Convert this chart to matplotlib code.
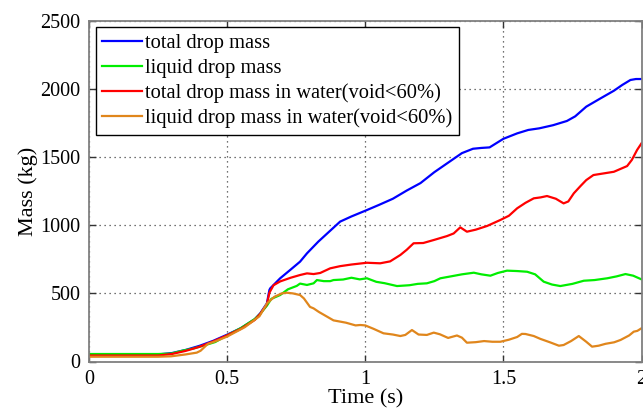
import matplotlib
matplotlib.use('Agg')
import matplotlib.pyplot as plt

# Time samples (s) and drop masses (kg).
t_total = [0.0, 0.25, 0.30, 0.35, 0.40, 0.45, 0.50, 0.55, 0.60, 0.62, 0.644, 0.653, 0.656,
           0.692, 0.73, 0.764, 0.789, 0.83, 0.873, 0.909, 0.95, 1.006, 1.05, 1.10, 1.15,
           1.20, 1.25, 1.30, 1.35, 1.39, 1.42, 1.45, 1.5, 1.55, 1.59,
           1.63, 1.68, 1.73, 1.76, 1.80, 1.85, 1.90, 1.93, 1.96, 1.98, 2.0]
m_total = [52, 52, 62, 85, 115, 152, 197, 245, 310, 354, 427, 525, 537,
           611, 675, 733, 794, 880, 960, 1027, 1065, 1112, 1150, 1195, 1255,
           1310, 1390, 1460, 1530, 1562, 1568, 1572, 1635, 1675, 1700,
           1712, 1735, 1766, 1800, 1871, 1930, 1988, 2030, 2067, 2074, 2074]

t_liquid = [0.0, 0.25, 0.297, 0.34, 0.377, 0.42, 0.457, 0.5, 0.55, 0.60, 0.62, 0.644, 0.66,
            0.692, 0.72, 0.752, 0.764, 0.789, 0.813, 0.825, 0.85, 0.873, 0.885, 0.92, 0.95,
            0.98, 1.006, 1.04, 1.07, 1.115, 1.16, 1.19, 1.223, 1.25, 1.272, 1.31, 1.35, 1.393,
            1.42, 1.453, 1.48, 1.513, 1.55, 1.586, 1.615, 1.646, 1.676, 1.706, 1.75, 1.791,
            1.83, 1.876, 1.91, 1.942, 1.97, 2.0]
m_liquid = [55, 55, 58, 80, 95, 120, 143, 192, 246, 312, 350, 410, 460,
            488, 530, 555, 572, 562, 574, 598, 590, 590, 598, 602, 615,
            603, 611, 585, 575, 554, 560, 570, 574, 590, 611, 625, 640, 652,
            640, 630, 650, 667, 664, 659, 640, 586, 565, 554, 570, 593,
            598, 611, 625, 642, 630, 603]

t_water = [0.0, 0.25, 0.30, 0.35, 0.40, 0.45, 0.50, 0.55, 0.60, 0.62, 0.644, 0.653, 0.668,
           0.692, 0.73, 0.764, 0.789, 0.813, 0.837, 0.873, 0.909, 0.95, 1.006, 1.054,
           1.09, 1.127, 1.15, 1.175, 1.21, 1.248, 1.296, 1.32, 1.344, 1.368, 1.40, 1.441,
           1.489, 1.52, 1.55, 1.58, 1.61, 1.635, 1.658, 1.69, 1.718, 1.735, 1.755, 1.78,
           1.80, 1.826, 1.86, 1.90, 1.948, 1.965, 1.984, 2.0]
m_water = [44, 44, 55, 78, 108, 148, 192, 240, 305, 350, 420, 505, 560,
           588, 615, 635, 647, 642, 650, 684, 700, 712, 725, 721,
           735, 782, 820, 868, 870, 892, 921, 940, 985, 953, 968, 995,
           1039, 1070, 1125, 1165, 1198, 1205, 1215, 1195, 1161, 1175, 1235, 1290,
           1332, 1369, 1380, 1393, 1435, 1480, 1553, 1602]

t_liq_water = [0.0, 0.25, 0.297, 0.35, 0.39, 0.404, 0.43, 0.46, 0.50, 0.564, 0.617, 0.644,
               0.671, 0.698, 0.716, 0.738, 0.764, 0.778, 0.80, 0.813, 0.832, 0.885, 0.93,
               0.965, 0.982, 1.0, 1.03, 1.066, 1.1, 1.127, 1.145, 1.169, 1.193, 1.223, 1.248,
               1.27, 1.3, 1.332, 1.35, 1.368, 1.40, 1.43, 1.46, 1.489, 1.52, 1.55, 1.567, 1.58,
               1.61, 1.634, 1.67, 1.701, 1.718, 1.745, 1.773, 1.80, 1.821, 1.845, 1.87, 1.901,
               1.924, 1.955, 1.972, 1.985, 2.0]
m_liq_water = [35, 35, 38, 52, 65, 79, 129, 150, 183, 252, 332, 426,
               475, 500, 505, 500, 488, 463, 401, 390, 364, 302, 285,
               265, 268, 265, 240, 207, 198, 187, 195, 231, 198, 195, 212,
               200, 173, 191, 175, 138, 142, 150, 145, 145, 160, 180, 203, 202,
               187, 166, 140, 116, 121, 150, 187, 145, 109, 116, 130, 141,
               158, 191, 219, 225, 244]

series = [
    (t_total, m_total, 'total drop mass', '#0000ff'),
    (t_liquid, m_liquid, 'liquid drop mass', '#00ee00'),
    (t_water, m_water, 'total drop mass in water(void<60%)', '#ff0000'),
    (t_liq_water, m_liq_water, 'liquid drop mass in water(void<60%)', '#e0861c'),
]

plt.rcParams['font.family'] = ['Liberation Serif', 'DejaVu Serif']
plt.rcParams['font.size'] = 14

fig = plt.figure(figsize=(6.43, 4.09), dpi=100)
ax = fig.add_axes([89 / 643, (409 - 361.5) / 409, 552.5 / 643, 340.5 / 409])

for t, m, label, color in series:
    ax.plot(t, m, color=color, linewidth=1.6, label=label)

ax.set_xlim(0, 2)
ax.set_ylim(0, 2500)
ax.set_xticks([0, 0.5, 1, 1.5, 2])
ax.set_xticklabels(['0', '0.5', '1', '1.5', '2'])
ax.set_yticks([0, 500, 1000, 1500, 2000, 2500])

ax.grid(True, color='#444444', linestyle=(0, (1, 3)), linewidth=0.9)
for sp in ax.spines.values():
    sp.set_color('#808080')
    sp.set_linewidth(1.3)
ax.tick_params(direction='in', length=5, width=1, color='#333333', top=True, right=True,
               labelsize=14.5, pad=6)

ax.set_xlabel('Time (s)', fontsize=16, labelpad=0)
ax.set_ylabel('Mass (kg)', fontsize=16, labelpad=2)

leg = ax.legend(loc='upper left', bbox_to_anchor=(7 / 552.5, 334.2 / 340.5), borderaxespad=0,
                fancybox=False, edgecolor='black', framealpha=1, fontsize=14.8,
                handlelength=1.95, handletextpad=0.15, labelspacing=0.27, borderpad=0.3)
leg.get_frame().set_linewidth(1.0)

fig.savefig('out.png', dpi=100)
